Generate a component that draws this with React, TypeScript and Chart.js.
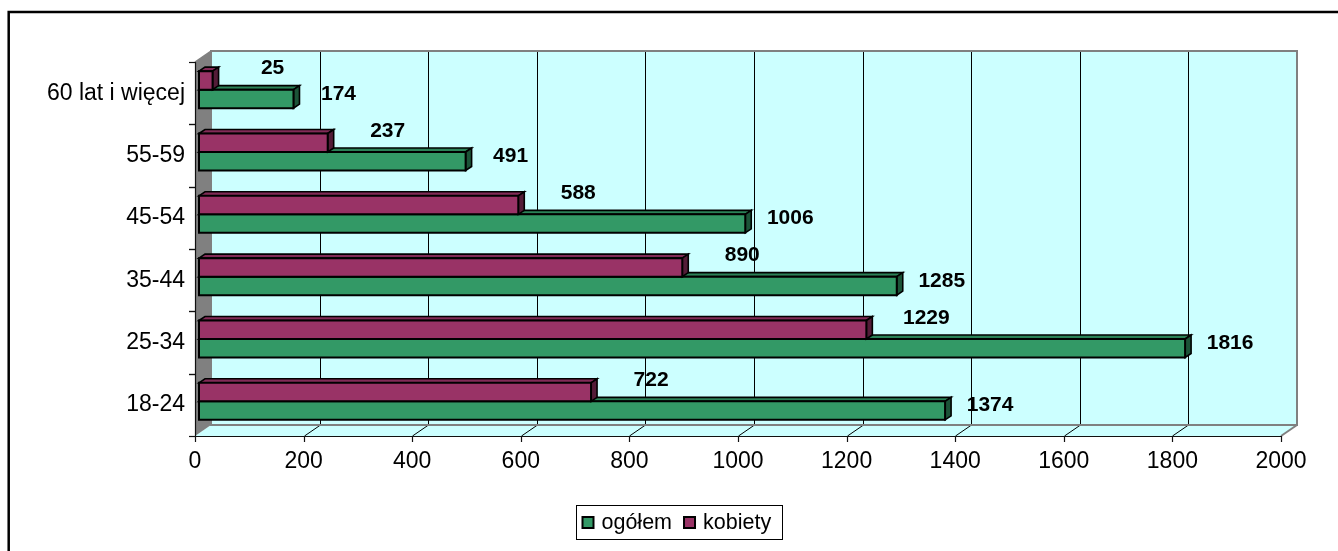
import React, { useEffect, useRef } from "react";
import { Chart, registerables } from "chart.js";

Chart.register(...registerables);

// ---- data ----
const categories = ["18-24", "25-34", "35-44", "45-54", "55-59", "60 lat i więcej"];
const ogolem = [1374, 1816, 1285, 1006, 491, 174];
const kobiety = [722, 1229, 890, 588, 237, 25];
const seriesNames = ["ogółem", "kobiety"];
const valueMin = 0;
const valueMax = 2000;
const valueStep = 200;

// ---- style ----
const GREEN = "#339966";
const MAROON = "#993366";
const WALL = "#CCFFFF";
const SIDE = "#808080";
const FONT = "Arial, 'Liberation Sans', sans-serif";

// 3D geometry (pixels)
const DX = 16; // wall depth x
const DY = 11; // wall depth y
const BOX = 4; // bars front plane offset x
const BOY = 3.5; // bars front plane offset y
const BDX = 6; // bar depth x
const BDY = 4; // bar depth y

function shade(hex: string, f: number) {
  const n = parseInt(hex.slice(1), 16);
  const r = Math.round(((n >> 16) & 255) * f);
  const g = Math.round(((n >> 8) & 255) * f);
  const b = Math.round((n & 255) * f);
  return `rgb(${r},${g},${b})`;
}

function poly(ctx: CanvasRenderingContext2D, pts: number[][], fill?: string, stroke?: string, lw = 1) {
  ctx.beginPath();
  ctx.moveTo(pts[0][0], pts[0][1]);
  for (let i = 1; i < pts.length; i++) ctx.lineTo(pts[i][0], pts[i][1]);
  ctx.closePath();
  if (fill) {
    ctx.fillStyle = fill;
    ctx.fill();
  }
  if (stroke) {
    ctx.strokeStyle = stroke;
    ctx.lineWidth = lw;
    ctx.stroke();
  }
}

function line(ctx: CanvasRenderingContext2D, x1: number, y1: number, x2: number, y2: number, color: string, lw = 1) {
  ctx.beginPath();
  ctx.moveTo(x1, y1);
  ctx.lineTo(x2, y2);
  ctx.strokeStyle = color;
  ctx.lineWidth = lw;
  ctx.stroke();
}

const threeDPlugin = {
  id: "threeD",
  beforeDraw(chart: any) {
    const { ctx, chartArea } = chart;
    const { left: L, right: R, top: T, bottom: B } = chartArea;
    const xs = chart.scales.x;
    const ys = chart.scales.y;
    ctx.save();
    ctx.fillStyle = "#fff";
    ctx.fillRect(0, 0, chart.width, chart.height);

    // outer frame (top & left visible)
    ctx.beginPath();
    ctx.moveTo(8.7, chart.height + 5);
    ctx.lineTo(8.7, 12);
    ctx.lineTo(chart.width + 5, 12);
    ctx.strokeStyle = "#000";
    ctx.lineWidth = 2.5;
    ctx.stroke();

    // back wall
    ctx.fillStyle = WALL;
    ctx.fillRect(L + DX, T - DY, R - L, B - T);
    // floor
    poly(ctx, [[L, B], [L + DX, B - DY], [R + DX, B - DY], [R, B]], WALL);
    // left side wall
    poly(ctx, [[L, T], [L + DX, T - DY], [L + DX, B - DY], [L, B]], SIDE);

    // gridlines on back wall and floor diagonals
    ctx.lineCap = "butt";
    xs.ticks.forEach((t: any) => {
      const v = t.value;
      const px = Math.round(xs.getPixelForValue(v)) + 0.5;
      if (v > valueMin && v < valueMax) {
        line(ctx, px + DX, T - DY, px + DX, B - DY, "#000", 1);
        line(ctx, px, B, px + DX, B - DY, "#000", 1);
      }
    });

    // wall outlines
    ctx.strokeStyle = SIDE;
    ctx.lineWidth = 2;
    ctx.strokeRect(L + DX, T - DY, R - L, B - T);
    line(ctx, R + DX, B - DY, R, B, SIDE, 2);
    line(ctx, L, T, L + DX, T - DY, SIDE, 1.5);

    // axes
    line(ctx, L, B + 0.5, R, B + 0.5, "#111", 1.2);
    line(ctx, L + 0.5, T, L + 0.5, B, "#111", 1.2);
    xs.ticks.forEach((t: any) => {
      const px = Math.round(xs.getPixelForValue(t.value)) + 0.5;
      line(ctx, px, B, px, B + 6, "#111", 1.2);
    });
    const n = categories.length;
    const band = Math.abs(ys.getPixelForValue(1) - ys.getPixelForValue(0));
    for (let i = 0; i < n; i++) {
      const c = ys.getPixelForValue(i);
      [c - band / 2, c + band / 2].forEach((yy) => {
        const py = Math.round(yy) + 0.5;
        line(ctx, L - 6, py, L, py, "#111", 1.2);
      });
    }
    ctx.restore();
  },
  afterDatasetsDraw(chart: any) {
    const { ctx } = chart;
    ctx.save();
    ctx.lineJoin = "miter";
    const order = [1, 0]; // draw ogółem (lower) first, then kobiety (upper)
    const colors = [MAROON, GREEN];
    order.forEach((di) => {
      const meta = chart.getDatasetMeta(di);
      const col = colors[di];
      meta.data.forEach((el: any) => {
        const { x, y, base, height } = el.getProps(["x", "y", "base", "height"], true);
        const x0 = base + BOX;
        const x1 = x + BOX;
        const y0 = y - height / 2 - BOY;
        const y1 = y + height / 2 - BOY;
        poly(ctx, [[x0, y0], [x0 + BDX, y0 - BDY], [x1 + BDX, y0 - BDY], [x1, y0]], shade(col, 0.85), "#000", 1.6);
        poly(ctx, [[x1, y0], [x1 + BDX, y0 - BDY], [x1 + BDX, y1 - BDY], [x1, y1]], shade(col, 0.55), "#000", 1.6);
        poly(ctx, [[x0, y0], [x1, y0], [x1, y1], [x0, y1]], col, "#000", 2);
      });
    });

    // data labels
    ctx.font = `bold 21px ${FONT}`;
    ctx.fillStyle = "#000";
    ctx.textAlign = "center";
    ctx.textBaseline = "middle";
    const labelOff = [
      [60, -12],
      [45, -5],
    ];
    [0, 1].forEach((di) => {
      const meta = chart.getDatasetMeta(di);
      const data = chart.data.datasets[di].data;
      meta.data.forEach((el: any, i: number) => {
        const { x, y } = el.getProps(["x", "y"], true);
        ctx.fillText(String(data[i]), x + BOX + labelOff[di][0], y - BOY + labelOff[di][1]);
      });
    });
    ctx.restore();
  },
  afterDraw(chart: any) {
    const { ctx } = chart;
    ctx.save();
    ctx.font = `21.5px ${FONT}`;
    const items = [
      { name: seriesNames[0], color: GREEN },
      { name: seriesNames[1], color: MAROON },
    ];
    const sq = 11;
    const padL = 6;
    const gapText = 8;
    const gapItem = 12;
    const padR = 11;
    const widths = items.map((it) => ctx.measureText(it.name).width);
    let total = padL;
    items.forEach((it, i) => {
      total += sq + gapText + widths[i] + (i < items.length - 1 ? gapItem : padR);
    });
    const cx = 679;
    const top = 505;
    const h = 34;
    const left = Math.round(cx - total / 2) + 0.5;
    ctx.strokeStyle = "#000";
    ctx.lineWidth = 1;
    ctx.strokeRect(left, top + 0.5, Math.round(total), h);
    let xx = left + padL;
    const cy = top + h / 2 + 0.5;
    items.forEach((it, i) => {
      ctx.fillStyle = it.color;
      ctx.fillRect(xx, cy - sq / 2, sq, sq);
      ctx.strokeStyle = "#000";
      ctx.lineWidth = 2;
      ctx.strokeRect(xx, cy - sq / 2, sq, sq);
      xx += sq + gapText;
      ctx.fillStyle = "#000";
      ctx.textAlign = "left";
      ctx.textBaseline = "middle";
      ctx.fillText(it.name, xx, cy + 1);
      xx += widths[i] + gapItem;
    });
    ctx.restore();
  },
};

export default function App() {
  const ref = useRef<HTMLCanvasElement>(null);
  useEffect(() => {
    document.body.style.margin = "0";
    const chart = new Chart(ref.current as HTMLCanvasElement, {
      type: "bar",
      data: {
        labels: categories,
        datasets: [
          {
            label: seriesNames[1],
            data: kobiety,
            backgroundColor: "rgba(0,0,0,0)",
            borderWidth: 0,
            categoryPercentage: 0.594,
            barPercentage: 1,
          },
          {
            label: seriesNames[0],
            data: ogolem,
            backgroundColor: "rgba(0,0,0,0)",
            borderWidth: 0,
            categoryPercentage: 0.594,
            barPercentage: 1,
          },
        ],
      },
      options: {
        indexAxis: "y",
        responsive: false,
        animation: false,
        devicePixelRatio: 1,
        events: [],
        layout: { padding: { top: 62, right: 57, left: 0, bottom: 0 } },
        plugins: {
          legend: { display: false },
          tooltip: { enabled: false },
          title: { display: false },
        },
        scales: {
          x: {
            type: "linear",
            min: valueMin,
            max: valueMax,
            ticks: {
              stepSize: valueStep,
              color: "#000",
              font: { family: FONT, size: 23 },
              padding: 12,
              maxRotation: 0,
              callback: (v: any) => String(v),
            },
            grid: { display: false, drawTicks: false },
            border: { display: false },
            afterFit: (scale: any) => {
              scale.height = 115;
            },
          },
          y: {
            type: "category",
            reverse: true,
            ticks: {
              color: "#000",
              font: { family: FONT, size: 23 },
              padding: 10,
            },
            grid: { display: false, drawTicks: false },
            border: { display: false },
            afterFit: (scale: any) => {
              scale.width = 195;
            },
          },
        },
      } as any,
      plugins: [threeDPlugin],
    });
    return () => chart.destroy();
  }, []);
  return (
    <div style={{ width: 1338, height: 551 }}>
      <canvas ref={ref} width={1338} height={551} style={{ display: "block" }} />
    </div>
  );
}
